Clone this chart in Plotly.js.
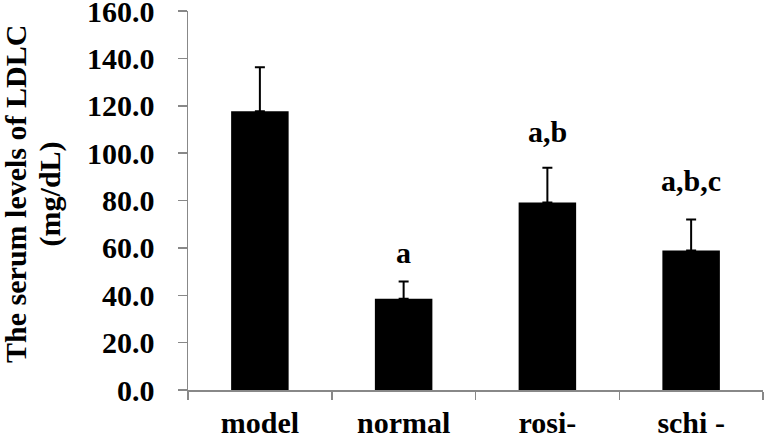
<!DOCTYPE html>
<html>
<head>
<meta charset="utf-8">
<script src="https://cdn.plot.ly/plotly-3.0.1.min.js"></script>
<style>html,body{margin:0;padding:0;background:#fff;}#chart{width:764px;height:438px;}</style>
</head>
<body>
<div id="chart"></div>
<script>
const categories = ['model', 'normal', 'rosi-', 'schi -'];
const values = [117.7, 38.5, 79.2, 58.9];
const errorsPlus = [18.6, 7.3, 14.6, 13.1];
const sigLabels = ['', 'a', 'a,b', 'a,b,c'];
const sigLabelY = [0, 57.9, 109.3, 88.6];
const yTicks = [0, 20, 40, 60, 80, 100, 120, 140, 160];
const yTitleLines = ['The serum levels of LDLC', '(mg/dL)'];

const FONT = 'Liberation Serif, Times New Roman, serif';

const trace = {
  type: 'bar',
  x: categories,
  y: values,
  marker: {color: '#000000', line: {width: 0}},
  error_y: {
    type: 'data',
    symmetric: false,
    array: errorsPlus,
    arrayminus: values.map(() => 0),
    color: '#000000',
    thickness: 2,
    width: 5
  },
  hoverinfo: 'skip'
};

const annotations = [];
categories.forEach((c, i) => {
  if (sigLabels[i]) {
    annotations.push({
      x: c, y: sigLabelY[i], xref: 'x', yref: 'y',
      text: sigLabels[i], showarrow: false,
      xanchor: 'center', yanchor: 'middle',
      font: {family: FONT, size: 30, color: '#000', weight: 'bold'}
    });
  }
});
const titleX = [-0.300, -0.240];
yTitleLines.forEach((t, i) => {
  annotations.push({
    x: titleX[i], y: 0.516, xref: 'paper', yref: 'paper',
    text: t, showarrow: false, textangle: -90,
    xanchor: 'center', yanchor: 'middle',
    font: {family: FONT, size: 30, color: '#000', weight: 'bold'}
  });
});

const layout = {
  width: 764, height: 438,
  margin: {l: 188, r: 1, t: 11, b: 48, pad: 0},
  paper_bgcolor: '#ffffff', plot_bgcolor: '#ffffff',
  showlegend: false,
  bargap: 0.6,
  xaxis: {
    type: 'category',
    showline: true, linecolor: '#888888', linewidth: 1.5,
    ticks: 'outside', tickson: 'boundaries', ticklen: 8, tickcolor: '#888888', tickwidth: 1.5,
    showgrid: false, zeroline: false,
    tickfont: {family: FONT, size: 30, color: '#000', weight: 'bold'},
    ticklabelstandoff: 5
  },
  yaxis: {
    range: [0, 160.001],
    tickmode: 'array', tickvals: yTicks, ticktext: yTicks.map(v => v.toFixed(1)),
    showline: true, linecolor: '#888888', linewidth: 1.5,
    ticks: 'outside', ticklen: 9, tickcolor: '#888888', tickwidth: 1.5,
    showgrid: false, zeroline: false,
    tickfont: {family: FONT, size: 30, color: '#000', weight: 'bold'},
    ticklabelstandoff: 17,
    ticklabeloverflow: 'allow'
  },
  annotations: annotations
};

Plotly.newPlot('chart', [trace], layout, {displayModeBar: false, staticPlot: true});
</script>
</body>
</html>
